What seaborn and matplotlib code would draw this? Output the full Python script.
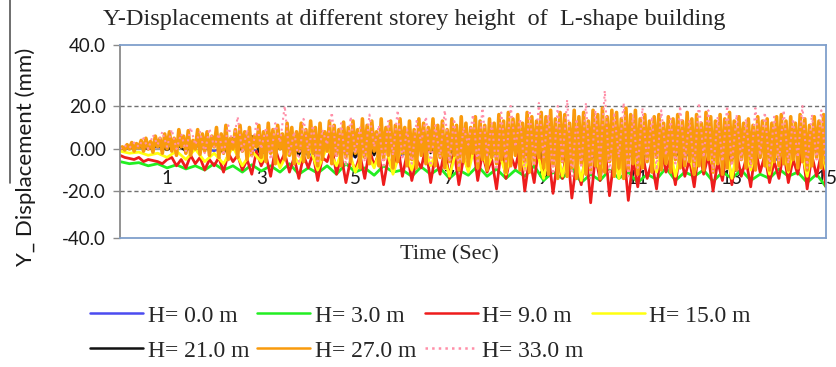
import numpy as np
import pandas as pd
import matplotlib.pyplot as plt
import seaborn as sns
from matplotlib.lines import Line2D

sns.set_style("white")
plt.rcParams['font.family'] = ['Liberation Serif', 'DejaVu Serif']

# 시간축 (sec)
t_dense = np.linspace(0, 15, 301)  # 0.05 s
t_fine = np.linspace(0, 15, 151)   # 0.1 s
t_mid = np.linspace(0, 15, 76)     # 0.2 s
t_coarse = np.linspace(0, 15, 31)  # 0.5 s

# Y 변위 (mm), 그림에서 읽은 값
h00 = [0.5, 1, 0.5, 2, -1, 3, -2, 4, -3, 2, -4, 5, -3, 4, -5, 6, -4, 5, -6, 7, -5, 6, -7, 5, -4, 6, -5,
       4, -6, 5, -3]

h03 = [-6, -7, -6.5, -8, -7, -9,
       -7.5, -9.5, -8, -10, -7,
       -10, -8, -11, -7.5, -10.5,
       -8, -11, -7, -12, -9,
       -11.5, -8, -12, -7, -11,
       -9, -12.5, -8, -11, -10,
       -13, -8.5, -12, -9, -14,
       -10, -12.5, -8, -13, -9.5,
       -14, -10, -13, -8, -15,
       -11, -14, -9, -16, -12,
       -15, -10, -14, -11, -16,
       -12, -14.5, -9, -15, -11,
       -13, -10, -15.5, -11, -14,
       -10, -15, -12, -14, -9.5,
       -13, -11, -16, -12, -18]

h09 = [-3, -4, -4.5, -5, -4, -6, -5, -5.5, -6, -7, -5,
       -4, -8, -5, -9, -3, -7, -4, -10, -5, -8,
       -4, -11, -2, -6, -3, -10, -5, -12, -1, -8,
       -3, -13, 0, -7, -2, -11, -4, -14, -3, -9,
       -2, -15, -4, -6, 1, -12, -3, -16, -5, -10,
       -3, -14, 0, -8, -2, -17, -4, -11, 2, -13,
       -2, -15, -5, -9, 1, -16, -3, -12, 0, -14,
       -1, -17, -4, -10, 2, -15, -2, -11, -5, -19,
       0, -14, -3, -9, 1, -20, -4, -16, 2, -13,
       -2, -21, -5, -14, 1, -23, -6, -17, 0, -25,
       -3, -15, 2, -22, -4, -12, 0, -24, -5, -18,
       -2, -14, -6, -19, 1, -11, -4, -17, -1, -13,
       -5, -18, 0, -12, -3, -20, -6, -15, 1, -17,
       -2, -13, -5, -18, 0, -11, -3, -16, -6, -14,
       -1, -16, -5, -12, 0, -19, -3, -13, -2, -18]

h15 = [-1, -2, -1.5, -3, -2, -4,
       -1, -5, 0, -6, -2,
       -7, 1, -8, -1, -6,
       2, -9, 0, -7, 3,
       -10, 1, -8, 4, -11,
       0, -9, 5, -12, 2,
       -10, 6, -8, 3, -13,
       4, -11, 7, -9, 2,
       -12, 8, -10, 5, -14,
       9, -13, 6, -15, 10,
       -12, 8, -14, 11, -10,
       7, -11, 9, -13, 6,
       -12, 10, -9, 8, -14,
       9, -10, 7, -12, 10,
       -11, 8, -13, 9, -10]

h21 = [0, 0.5, 1, 0, 1.5, -0.5,
       2, -1, 3, 0, 4,
       -2, 5, -1, 6, -3,
       4, 0, 6, -3, 5,
       -2, 7, -1, 4, -4,
       6, -3, 7, 0, 5,
       -4, 6, -2, 8, -3,
       5, -1, 7, -4, 6,
       -3, 8, -4, 6, -5,
       7, -3, 9, -5, 6,
       -4, 8, -2, 9, -5,
       6, -2, 7, -4, 5,
       -3, 8, -4, 6, -2,
       6, -4, 7, -2, 5,
       -3, 6, -2, 8, -4]

h27 = [0,
       1, -0.5, 2, 0, 3, -1, 2.5, 0.5, 4, -1, 5, 0, 3.5, -1.5, 6, 1, 5, -2, 7, 0,
       8, -1, 5, -3, 9, 1, 6, -2, 8.5, -3, 4, 0, 9, -2.5, 7, -1, 8, -3, 6, 1,
       10, -4, 7, -2, 11, -5, 5, 0, 9, -4, 11, -1, 8, -5, 10, -3, 6, 1, 11, -4,
       8, -6, 12, -2, 9, -7, 11, 0, 7, -5, 12, -3, 10, -7, 8, -1, 12, -6, 9, -4,
       13, -2, 10, -8, 12, -5, 8, -1, 13, -7, 11, -3, 9, -8, 12.5, -4, 10, -6, 13, -2,
       9, -9, 14, -4, 11, -7, 13, -1, 8, -8, 14, -5, 10, -3, 13, -9, 11, -6, 14, -2,
       10, -8, 13, -5, 9, -9, 14, -3, 12, -7, 10, -1, 14, -8, 11, -4, 13, -9, 9, -6,
       14, -3, 11, -10, 15, -6, 12, -8, 10, -2, 15, -9, 13, -5, 11, -10, 14, -4, 12, -7,
       16, -5, 13, -11, 17, -8, 14, -3, 16, -10, 12, -6, 17, -11, 15, -7, 13, -4, 17, -9,
       15, -12, 18, -8, 14, -14, 17, -6, 16, -13, 12, -9, 18, -14, 15, -7, 17, -12, 13, -10,
       18, -8, 16, -14, 19, -11, 15, -6, 18, -13, 17, -9, 14, -14, 19, -10, 16, -7, 18, -12,
       14, -9, 16, -6, 13, -11, 15, -4, 16, -10, 12, -7, 15, -11, 14, -5, 16, -9, 13, -8,
       17, -6, 14, -12, 16, -8, 12, -10, 17, -5, 15, -11, 13, -7, 16, -12, 14, -9, 17, -6,
       13, -10, 15, -5, 12, -9, 14, -7, 11, -10, 15, -4, 13, -8, 14, -10, 12, -6, 15, -8,
       16, -7, 13, -10, 15, -5, 12, -9, 16, -6, 14, -10, 11, -8, 15, -4, 13, -9, 16, -7]

h33 = [0, 1.5, 0.5, 3, 1, 5, 0, 6.5, 2, 8, 1,
       9, 0, 7, -1, 10, 2, 8, -2, 9.5, 1,
       7, -3, 11, 2, 15, -2, 9, -4, 13, 0,
       10, -5, 12, 3, 20, -3, 8, -6, 14, -1,
       11, -7, 9, 2, 17, -4, 12, -8, 15, -2,
       10, -6, 16, 1, 11, -9, 13, -3, 18, -5,
       9, -7, 13, 3, 15, -8, 11, -4, 18, -6,
       14, -9, 10, 2, 16, -7, 19, -3, 12, -10,
       17, -6, 20, 1, 14, -11, 18, -8, 21, -4,
       16, -12, 20, -6, 22, -13, 14, -9, 21, -14,
       18, -7, 25, -12, 17, -4, 21, -13, 16, -9,
       19, -6, 15, -10, 18, -3, 14, -8, 20, -5,
       13, -9, 21, -4, 18, -11, 15, -6, 20, -8,
       16, -5, 14, -9, 19, -3, 17, -8, 15, -6,
       18, -7, 14, -4, 20, -9, 16, -5, 18, -8]

labels = ['H= 0.0 m', 'H= 3.0 m', 'H= 9.0 m', 'H= 15.0 m', 'H= 21.0 m', 'H= 27.0 m', 'H= 33.0 m']
colors = ['#4b4bf0', '#22ee22', '#ee1c1c', '#ffff10', '#111111', '#f99a0c', '#ff8fa8']
styles = ['-', '-', '-', '-', '-', '-', ':']
widths = [1.5, 2.0, 2.0, 2.0, 1.6, 2.6, 1.5]
series = [(t_coarse, h00), (t_mid, h03), (t_fine, h09), (t_mid, h15),
          (t_mid, h21), (t_dense, h27), (t_fine, h33)]

y_ticks = [40, 20, 0, -20, -40]
y_ticklabels = ['40.0', '20.0', '0.00', '-20.0', '-40.0']
x_ticks = [1, 3, 5, 7, 9, 11, 13, 15]

fig = plt.figure(figsize=(8.36, 3.67), dpi=100)
ax = fig.add_axes([120 / 836, 1 - 238 / 367, 706 / 836, 193 / 367])

# 원본 그림의 세로 눈금 간격이 고르지 않아 구간별 선형 스케일 사용
yv = [-400, -40, -20, 0, 20, 40, 400]
yp = [-846, 0, 47, 89, 132, 193, 1291]
ax.set_yscale('function', functions=(lambda v: np.interp(v, yv, yp),
                                     lambda p: np.interp(p, yp, yv)))

ax.axhline(0, color='#9a9a9a', lw=1, zorder=0)
for y in (20, -20):
    ax.axhline(y, color='#707070', lw=1, ls=(0, (3, 2)), zorder=0)

for (t, v), lab, c, s, w in zip(series, labels, colors, styles, widths):
    df = pd.DataFrame({'t': t, 'v': v})
    sns.lineplot(data=df, x='t', y='v', ax=ax, color=c, label=lab, linestyle=s,
                 lw=w, estimator=None, sort=False)

ax.set_xlim(0, 15)
ax.set_ylim(-40, 40)
ax.set_xlabel('')
ax.set_ylabel('')
ax.set_xticks([])
ax.set_yticks(y_ticks, y_ticklabels)
ax.tick_params(axis='y', length=5, width=1, color='#8a8a8a', pad=5, left=True,
               labelsize=13.5, labelcolor='#1a1a1a')
for lab in ax.get_yticklabels():
    lab.set_family('Lato')

for side in ('top', 'right', 'bottom'):
    ax.spines[side].set_color('#7f9fcc')
    ax.spines[side].set_linewidth(1.3)
ax.spines['left'].set_color('#8a8a8a')
ax.spines['left'].set_linewidth(1.3)

sec = ax.secondary_xaxis(0, transform=ax.transData)
sec.set_xticks(x_ticks)
sec.tick_params(length=0, pad=15, labelsize=13.5, labelcolor='#1a1a1a')
sec.spines['bottom'].set_visible(False)
for lab in sec.get_xticklabels():
    lab.set_family('Lato')

fig.text(414 / 836, 1 - 20 / 367, 'Y-Displacements at different storey height  of  L-shape building',
         ha='center', va='center', fontsize=17.5)
fig.text(449 / 836, 1 - 255 / 367, 'Time (Sec)', ha='center', va='center', fontsize=16)
fig.text(26 / 836, 1 - 157 / 367, 'Y_ Displacement (mm)', rotation=90, ha='center', va='center',
         fontsize=16, family='Lato', color='#1a1a1a')
fig.add_artist(Line2D([10 / 836, 10 / 836], [1, 1 - 183 / 367], color='#555555', lw=1.2))

handles, labs = ax.get_legend_handles_labels()
ax.get_legend().remove()
order = [0, 4, 1, 5, 2, 6, 3]
leg = fig.legend([handles[i] for i in order], [labs[i] for i in order], ncol=4,
                 loc='upper left', bbox_to_anchor=(90 / 836, 1 - 305 / 367), frameon=False,
                 fontsize=17, handlelength=2.24, handletextpad=0.2, columnspacing=0.35,
                 labelspacing=0.57, borderpad=0, borderaxespad=0)
for h in leg.get_lines():
    h.set_linewidth(1.8)

fig.savefig('out.png', dpi=100, facecolor='white')
